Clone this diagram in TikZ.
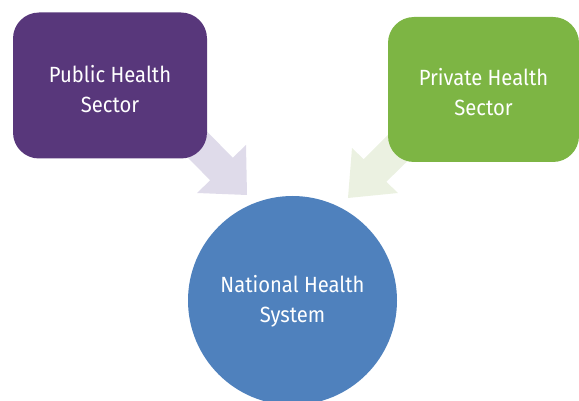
\documentclass[tikz,border=0pt]{standalone}
\usepackage{fontspec}
\setmainfont{Fira Sans}
\newfontfamily\labelfont[FakeStretch=0.92]{Fira Sans}
\usetikzlibrary{calc}
\definecolor{pubpurple}{HTML}{58377B}
\definecolor{privgreen}{HTML}{7DB544}
\definecolor{natblue}{HTML}{4F81BD}
\definecolor{pubarrow}{HTML}{DFDBEA}
\definecolor{privarrow}{HTML}{EBF1E1}
\tikzset{
  sector/.style={rounded corners=26pt, minimum width=#1, minimum height=146pt,
    inner sep=0pt},
  hub/.style={circle, fill=natblue, minimum size=209pt, inner sep=0pt},
  caption/.style={text=white, align=center, inner sep=0pt,
    font=\labelfont\fontsize{22}{30}\selectfont},
}
\begin{document}
\begin{tikzpicture}[x=1pt, y=-1pt]
\useasboundingbox (0,0) rectangle (579,401);
\clip (0,0) rectangle (579,401);
% block arrows, drawn first so the boxes sit on top of their tails
\fill[pubarrow] (168.3,137.9) -- (210.2,180.3) -- (197,193) -- (247,195)
  -- (246,145) -- (232.8,157.7) -- (190.9,115.3) -- cycle;
\fill[privarrow] (406,117) -- (363.7,159.2) -- (352,148) -- (348,198)
  -- (398,193) -- (386.3,181.8) -- (429,140) -- cycle;
% the two sectors and the system they feed
\node[sector=194pt, fill=pubpurple] (public) at (110,85.5) {};
\node[sector=191pt, minimum height=145pt, fill=privgreen] (private) at (483.5,89.5) {};
\node[hub] (national) at (292.5,300.5) {};
\node[caption] (publictext) at ($(public.center)+(0,4)$) {Public Health\\Sector};
\node[caption] (privatetext) at ($(private.center)+(0,3)$) {Private Health\\Sector};
\node[caption] (nationaltext) at ($(national.center)+(0,1)$) {National Health\\System};
\end{tikzpicture}
\end{document}
